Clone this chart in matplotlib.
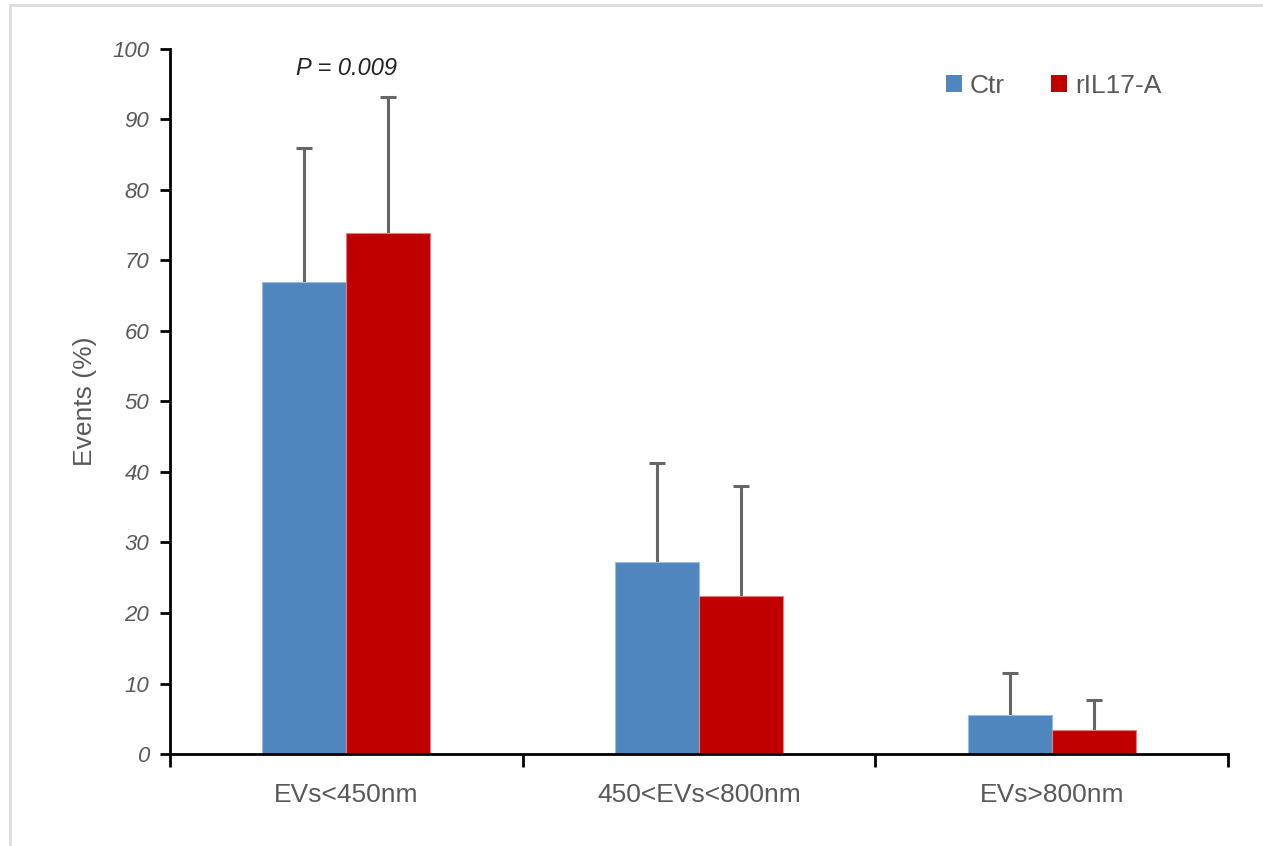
import numpy as np
import matplotlib
matplotlib.use('Agg')
import matplotlib.pyplot as plt
from matplotlib.patches import Patch
from matplotlib.lines import Line2D

# Данные
categories = ['EVs<450nm', '450<EVs<800nm', 'EVs>800nm']
ctr_vals = [67.0, 27.3, 5.5]
ctr_err = [19.0, 14.0, 6.0]
il17_vals = [73.9, 22.4, 3.4]
il17_err = [19.3, 15.6, 4.3]
series_names = ['Ctr', 'rIL17-A']

blue = '#4F86BE'
red = '#C00000'
grey_txt = '#595959'
err_col = '#666666'

plt.rcParams['font.family'] = ['Liberation Sans', 'DejaVu Sans']

fig = plt.figure(figsize=(12.63, 8.46), dpi=100)
ax = fig.add_axes([170 / 1263, 1 - 754 / 846, (1228 - 170) / 1263, (754 - 49) / 846])

x = np.arange(len(categories))
w = 0.238

for xs, vals, errs, col, ec in [(x - w / 2, ctr_vals, ctr_err, blue, '#9DBBDB'),
                                (x + w / 2, il17_vals, il17_err, red, '#E08080')]:
    vals = np.array(vals)
    tops = vals + np.array(errs)
    # только верхние усы
    ax.vlines(xs, vals, tops, color=err_col, lw=2.2, zorder=1)
    ax.plot(xs, tops, ls='none', marker='_', ms=12, mew=2.2, color=err_col, zorder=1)
    ax.bar(xs, vals, w, color=col, edgecolor=ec, linewidth=0.8, zorder=2)

ax.set_xlim(-0.5, 2.5)
ax.set_ylim(0, 100)

# Оси
for s in ['top', 'right']:
    ax.spines[s].set_visible(False)
for s in ['left', 'bottom']:
    ax.spines[s].set_linewidth(2)
    ax.spines[s].set_color('black')
    ax.spines[s].set_zorder(3)

ax.set_yticks(np.arange(0, 101, 10))
ax.tick_params(axis='y', length=7, width=2, direction='out', pad=8,
               labelsize=16, labelcolor=grey_txt)
for lab in ax.get_yticklabels():
    lab.set_fontstyle('italic')

ax.set_xticks([-0.5, 0.5, 1.5, 2.5])
ax.set_xticklabels([])
ax.tick_params(axis='x', length=9, width=2, direction='out')
ax.set_xticks(x, minor=True)
ax.set_xticklabels(categories, minor=True)
ax.tick_params(axis='x', which='minor', length=0, pad=21,
               labelsize=19, labelcolor=grey_txt)

ax.set_ylabel('Events (%)', fontsize=19, color=grey_txt, labelpad=11)

# P-значение
ax.text(0, 97.3, 'P = 0.009', ha='center', va='center', fontsize=17,
        fontstyle='italic', color='#222222')

# Легенда
handles = [Patch(facecolor=blue, edgecolor='none'),
           Patch(facecolor=red, edgecolor='none')]
fig.legend(handles, series_names, loc='center left',
           bbox_to_anchor=(946 / 1263, 1 - 86 / 846), ncol=2, frameon=False,
           fontsize=19, labelcolor=grey_txt, handlelength=0.6, handleheight=0.6,
           handletextpad=0.3, columnspacing=1.75, borderpad=0, borderaxespad=0)

# Светлая рамка
fig.add_artist(Line2D([10 / 1263, 10 / 1263], [0, 1 - 5 / 846], color='#DDDDDD', lw=2))
fig.add_artist(Line2D([10 / 1263, 1], [1 - 5 / 846, 1 - 5 / 846], color='#DDDDDD', lw=2))

fig.savefig('out.png', dpi=100)
